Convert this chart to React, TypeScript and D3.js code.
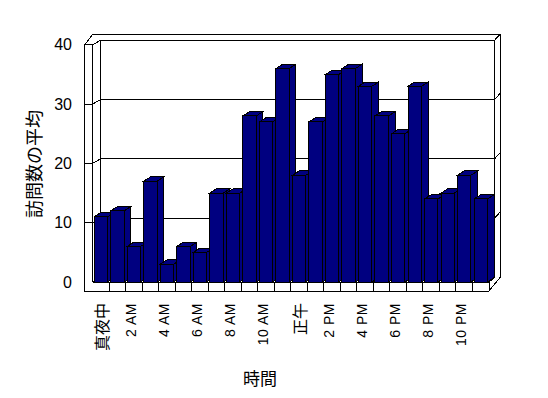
import React from "react";
import * as d3 from "d3";

const categories = [
  "真夜中", "1 AM", "2 AM", "3 AM", "4 AM", "5 AM", "6 AM", "7 AM", "8 AM", "9 AM", "10 AM", "11 AM",
  "正午", "1 PM", "2 PM", "3 PM", "4 PM", "5 PM", "6 PM", "7 PM", "8 PM", "9 PM", "10 PM", "11 PM",
];
const visits = [11, 12, 6, 17, 3, 6, 5, 15, 15, 28, 27, 36, 18, 27, 35, 36, 33, 28, 25, 33, 14, 15, 18, 14];
const yTicks = [0, 10, 20, 30, 40];
const yTitle = "訪問数の平均";
const xTitle = "時間";

const W = 548;
const H = 398;

// frame geometry
const WALL_OUT = 84.7;
const FX0 = 92.7;
const FX1 = 489;
const FLOOR_BOT = 291;
const BACK_L = 100.5;
const BACK_R = 494.5;
const DEPTH_DY = -4.5;
const OUT_R = 500;
const THICK_DY = -6;
const BAR_DX = 6.7;
const BAR_DY = -4.3;

const NAVY = "#000080";

const isCJK = (s: string) => /[\u3000-\u9fff]/.test(s);

export default function App() {
  const x = d3
    .scaleBand<number>()
    .domain(d3.range(categories.length))
    .range([FX0, FX1])
    .paddingInner(0.19)
    .paddingOuter(0.095);
  const y = d3.scaleLinear().domain([0, 40]).range([282, 44.8]);
  const step = x.step();
  const bw = x.bandwidth();
  const y0 = y(0);
  const yTop = y(40);
  const backTop = yTop + DEPTH_DY;
  const backBot = y0 + DEPTH_DY;

  const line = (x1: number, y1: number, x2: number, y2: number, k: string) => (
    <line key={k} x1={x1} y1={y1} x2={x2} y2={y2} stroke="#000" strokeWidth={1} />
  );

  const outer = [
    [WALL_OUT, yTop],
    [FX0, backTop + THICK_DY],
    [OUT_R, backTop + THICK_DY],
    [OUT_R, backBot],
    [FX1, FLOOR_BOT],
    [WALL_OUT, FLOOR_BOT],
  ]
    .map((p) => p.join(","))
    .join(" ");

  const frameLines = [
    line(BACK_L, backTop, BACK_R, backTop, "bt"),
    line(BACK_R, backTop, BACK_R, backBot, "br"),
    line(BACK_L, backTop, BACK_L, backBot, "bl"),
    line(BACK_R, backTop, OUT_R, backTop + THICK_DY, "trd"),
    line(FX0, yTop, FX0, y0, "wi"),
    line(WALL_OUT, yTop, FX0, yTop, "wt"),
    line(FX0, yTop, BACK_L, backTop, "wd"),
    line(FX0, y0, FX1, y0, "ff"),
    line(FX1, y0, FX1, FLOOR_BOT, "fr"),
    line(FX1, y0, BACK_R, backBot, "ftr"),
    line(BACK_L, backBot, BACK_R, backBot, "fb"),
    line(FX0, y0, BACK_L, backBot, "fl"),
  ];

  const grid = yTicks
    .filter((v) => v > 0 && v < 40)
    .flatMap((v) => {
      const yf = y(v);
      const yb = yf + DEPTH_DY;
      return [
        line(BACK_L, yb, BACK_R, yb, `g${v}`),
        line(FX0, yf, BACK_L, yb, `gl${v}`),
        line(WALL_OUT, yf, FX0, yf, `gt${v}`),
        line(BACK_R, yb, OUT_R, yb + THICK_DY, `gr${v}`),
      ];
    });

  const floorTicks = d3
    .range(1, categories.length)
    .map((i) => line(FX0 + i * step, y0, FX0 + i * step, FLOOR_BOT, `ft${i}`));

  const bars = visits.map((v, i) => {
    const x0 = x(i) as number;
    const x1 = x0 + bw;
    const yt = y(v);
    const side = `${x1},${y0} ${x1 + BAR_DX},${y0 + BAR_DY} ${x1 + BAR_DX},${yt + BAR_DY} ${x1},${yt}`;
    const top = `${x0},${yt} ${x0 + BAR_DX},${yt + BAR_DY} ${x1 + BAR_DX},${yt + BAR_DY} ${x1},${yt}`;
    return (
      <g key={`bar${i}`}>
        <polygon points={side} fill={NAVY} stroke="#000" strokeWidth={1} strokeLinejoin="miter" />
        <polygon points={top} fill={NAVY} stroke="#000" strokeWidth={1} />
        <rect x={x0} y={yt} width={bw} height={y0 - yt} fill={NAVY} stroke="#000" strokeWidth={1} />
      </g>
    );
  });

  const xLabels = categories
    .map((c, i) => ({ c, i }))
    .filter((d) => d.i % 2 === 0)
    .map(({ c, i }) => {
      const cx = (x(i) as number) + bw / 2;
      const cjk = isCJK(c);
      const px = cjk ? cx : cx - 3;
      return (
        <text
          key={`xl${i}`}
          transform={`translate(${px},303) rotate(-90)`}
          textAnchor="end"
          dominantBaseline="central"
          fontSize={cjk ? 16 : 14}
          letterSpacing={cjk ? 0 : 0.5}
          fontFamily={cjk ? "'Noto Sans CJK JP', sans-serif" : "'Liberation Sans', Arial, sans-serif"}
          fill="#000"
        >
          {c}
        </text>
      );
    });

  const yLabels = yTicks.map((v) => (
    <text
      key={`yl${v}`}
      x={72}
      y={y(v)}
      textAnchor="end"
      dominantBaseline="central"
      fontSize={16}
      fontFamily="'Liberation Sans', Arial, sans-serif"
      fill="#000"
    >
      {v}
    </text>
  ));

  return (
    <svg
      width={W}
      height={H}
      viewBox={`0 0 ${W} ${H}`}
      style={{ position: "absolute", left: 0, top: 0, background: "#fff" }}
    >
      <rect x={0} y={0} width={W} height={H} fill="#fff" />
      <g shapeRendering="crispEdges">
        <polygon points={outer} fill="#fff" stroke="#000" strokeWidth={1} />
        {frameLines}
        {grid}
        {floorTicks}
      </g>
      <g shapeRendering="crispEdges">{bars}</g>
      {yLabels}
      {xLabels}
      <text
        transform={`translate(33,164) rotate(-90)`}
        textAnchor="middle"
        dominantBaseline="central"
        fontSize={18}
        fontFamily="'Noto Sans CJK JP', sans-serif"
        fill="#000"
      >
        {yTitle}
      </text>
      <text
        x={260}
        y={377}
        textAnchor="middle"
        dominantBaseline="central"
        fontSize={17}
        fontFamily="'Noto Sans CJK JP', sans-serif"
        fill="#000"
      >
        {xTitle}
      </text>
    </svg>
  );
}
